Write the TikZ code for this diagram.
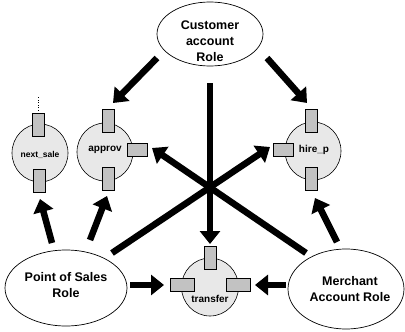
\documentclass[tikz,border=0pt]{standalone}
\usepackage{fontspec}
\setmainfont{Liberation Sans}
\usetikzlibrary{arrows.meta,shapes.geometric}
\definecolor{circfill}{HTML}{E8E8E8}
\definecolor{portfill}{HTML}{C2C2C2}
\begin{document}
\begin{tikzpicture}[x=1pt,y=-1pt,
  rolebox/.style={draw, ellipse, line width=0.7pt, inner sep=0pt},
  roletext/.style={font=\bfseries\fontsize{12.5}{16}\selectfont, align=center, inner sep=0pt},
  compbox/.style={draw, ellipse, line width=0.6pt, fill=circfill, inner sep=0pt, minimum width=56pt, minimum height=58pt},
  comptext/.style={font=\bfseries\fontsize{10}{12}\selectfont, inner sep=0pt},
  portv/.style={draw, line width=0.6pt, fill=portfill, inner sep=0pt, minimum width=12pt, minimum height=23pt},
  porth/.style={draw, line width=0.6pt, fill=portfill, inner sep=0pt, minimum width=20pt, minimum height=13pt},
  bigarrow/.style={line width=6.5pt, -{Triangle[width=20pt,length=13pt]}},
]
\useasboundingbox (0,0) rectangle (405,332);

% role ellipses
\node[rolebox, minimum width=106pt, minimum height=64pt] (cust) at (210,34) {};
\node[roletext] (custt) at (210,41.5) {Customer\\account\\Role};
\node[rolebox, minimum width=122pt, minimum height=76pt] (pos) at (66,288) {};
\node[roletext] (post) at (66,285) {Point of Sales\\Role};
\node[rolebox, minimum width=116pt, minimum height=80pt] (merch) at (346,289) {};
\node[roletext] (mercht) at (350,289) {Merchant\\Account Role};

% components
\node[compbox] (ns) at (40,153) {};
\node[comptext, font=\bfseries\fontsize{8.5}{10}\selectfont] (nst) at (40,155) {next\_sale};
\node[portv] (nstop) at (38,125) {};
\node[portv] (nsbot) at (39,181) {};
\coordinate (nsdot) at (38,97);
\draw[dotted, line width=0.6pt] (nstop.north) -- (nsdot);

\node[compbox] (ap) at (105,152) {};
\node[comptext] (apt) at (105,150) {approv};
\node[portv] (aptop) at (108,121) {};
\node[portv] (apbot) at (108,179) {};
\node[porth] (apright) at (137,150) {};

\node[compbox] (hp) at (313,151) {};
\node[comptext] (hpt) at (314,150) {hire\_p};
\node[portv] (hptop) at (311,121) {};
\node[portv] (hpbot) at (311,179) {};
\node[porth] (hpleft) at (283,150) {};

\node[compbox, minimum width=57pt] (tr) at (210,287) {};
\node[comptext] (trt) at (210,299) {transfer};
\node[portv] (trtop) at (210,258) {};
\node[porth, minimum width=24pt] (trleft) at (182,284.5) {};
\node[porth, minimum width=24pt] (trright) at (238,284.5) {};

% arrow end points
\coordinate (c1) at (157,58);  \coordinate (c1e) at (113,103);
\coordinate (c2) at (267,58);  \coordinate (c2e) at (307,103);
\coordinate (c3) at (210,83);  \coordinate (c3e) at (210,244);
\coordinate (p1) at (52,243);  \coordinate (p1e) at (40,199);
\coordinate (p2) at (90,240);  \coordinate (p2e) at (107,196);
\coordinate (p3) at (112,253); \coordinate (p3e) at (270,147);
\coordinate (p4) at (130,285); \coordinate (p4e) at (164,285);
\coordinate (m1) at (306,253); \coordinate (m1e) at (152,148);
\coordinate (m2) at (337,242); \coordinate (m2e) at (315,198);
\coordinate (m3) at (286,285); \coordinate (m3e) at (255,285);

\draw[bigarrow] (c1) -- (c1e);
\draw[bigarrow] (c2) -- (c2e);
\draw[bigarrow] (c3) -- (c3e);
\draw[bigarrow] (p1) -- (p1e);
\draw[bigarrow] (p2) -- (p2e);
\draw[bigarrow] (p3) -- (p3e);
\draw[bigarrow] (p4) -- (p4e);
\draw[bigarrow] (m1) -- (m1e);
\draw[bigarrow] (m2) -- (m2e);
\draw[bigarrow] (m3) -- (m3e);
\end{tikzpicture}
\end{document}
